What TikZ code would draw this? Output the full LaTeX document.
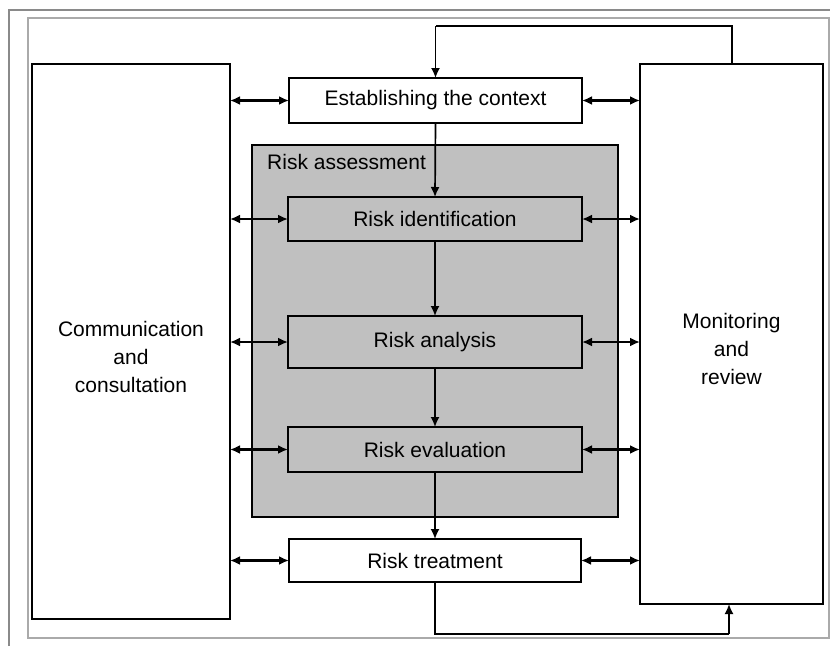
\documentclass[tikz,border=0pt]{standalone}
\usepackage{fontspec}
\setmainfont{Liberation Sans}
\usetikzlibrary{arrows.meta}
\begin{document}
\begin{tikzpicture}[x=1pt,y=-1pt,
  box/.style={draw=black,line width=1.5pt,fill=white,inner sep=0pt,outer sep=0pt},
  graybox/.style={box,fill=gray75},
  txt/.style={inner sep=0pt,align=center,font=\fontsize{21}{28}\selectfont,text=black},
  conn/.style={line width=2.4pt,draw=black},
  vconn/.style={line width=1.7pt,draw=black},
  tip/.style={-{Latex[length=10pt,width=9pt]}},
  dtip/.style={{Latex[length=10pt,width=9pt]}-{Latex[length=10pt,width=9pt]}},
  loop/.style={line width=1.5pt,draw=black}
]
\definecolor{gray75}{HTML}{C0C0C0}
\definecolor{frameA}{HTML}{8A8A8A}
\definecolor{frameB}{HTML}{AAAAAA}
\useasboundingbox (0,0) rectangle (830,646);
\fill[white] (0,0) rectangle (830,646);
% frames
\draw[frameA,line width=1.4pt] (9,646) -- (9,10) -- (830,10);
\draw[frameB,line width=2pt] (28,18) rectangle (829,638);
% risk assessment region
\node[graybox,minimum width=366pt,minimum height=372pt] (ra) at (435,331) {};
\node[txt,anchor=west] (ratxt) at (267,162) {Risk assessment};
% side boxes
\node[box,minimum width=198pt,minimum height=555pt] (comm) at (131,341.5) {};
\node[txt] (commtxt) at (131,357) {Communication\\and\\consultation};
\node[box,minimum width=183pt,minimum height=540pt] (mon) at (731.5,334) {};
\node[txt] (montxt) at (731.5,349) {Monitoring\\and\\review};
% process boxes
\node[box,minimum width=293pt,minimum height=45pt] (ctx) at (435.5,100.5) {};
\node[txt] at (ctx) {Establishing the context};
\node[graybox,minimum width=294pt,minimum height=44pt] (rid) at (435,219) {};
\node[txt] at (rid) {Risk identification};
\node[graybox,minimum width=294pt,minimum height=52pt] (ran) at (435,342) {};
\node[txt] at (ran) {Risk analysis};
\node[graybox,minimum width=294pt,minimum height=45pt] (rev) at (435,449.5) {};
\node[txt] at (rev) {Risk evaluation};
\node[box,minimum width=292pt,minimum height=43pt] (rtr) at (435,560.5) {};
\node[txt] at (rtr) {Risk treatment};
% vertical flow
\draw[vconn,tip] (ctx.south) -- (rid.north);
\draw[vconn,tip] (rid.south) -- (ran.north);
\draw[vconn,tip] (ran.south) -- (rev.north);
\draw[vconn,tip] (rev.south) -- (rtr.north);
% side connectors
\foreach \n in {ctx,rid,ran,rev,rtr}{
  \draw[conn,dtip] (\n.west -| comm.east) -- (\n.west);
  \draw[conn,dtip] (\n.east) -- (\n.east -| mon.west);
}
% feedback loops
\coordinate (tA) at (732,26);
\coordinate (tB) at (435.5,26);
\draw[loop] (732,64) -- (tA) -- (tB);
\draw[vconn,tip] (tB) -- (ctx.north);
\coordinate (bA) at (435,634);
\coordinate (bB) at (729,634);
\draw[loop] (rtr.south) -- (bA) -- (bB);
\draw[vconn,tip] (bB) -- (729,604);
\end{tikzpicture}
\end{document}
